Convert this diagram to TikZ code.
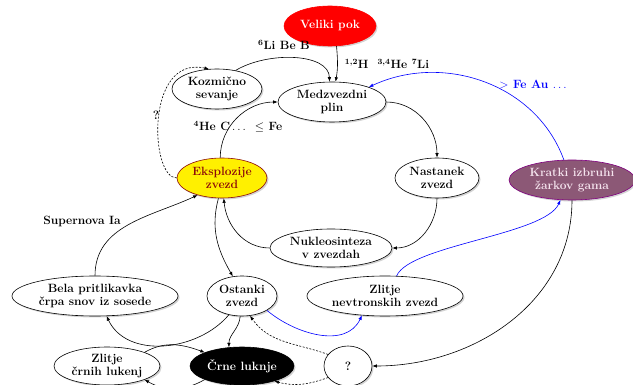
\documentclass[tikz,border=0pt]{standalone}
\usetikzlibrary{shapes.geometric,arrows.meta,shadows}
\definecolor{gammafill}{RGB}{140,88,118}
\definecolor{gammaborder}{RGB}{128,0,128}
\definecolor{gammatext}{RGB}{245,228,238}
\definecolor{explyellow}{RGB}{255,240,0}
\definecolor{expldark}{RGB}{140,10,10}
\begin{document}
\begin{tikzpicture}[x=1pt,y=1pt,
  every node/.style={font=\fontsize{12}{12.5}\selectfont\bfseries},
  bub/.style={ellipse, draw, line width=0.6pt, fill=white, inner sep=0pt, align=center,
    drop shadow={opacity=0.35, shadow xshift=1.5pt, shadow yshift=-1.5pt}},
  sz/.style 2 args={minimum width=#1, minimum height=#2},
  arr/.style={-{Latex[length=4.5pt,width=3.5pt]}, line width=0.6pt},
  dsh/.style={arr, dash pattern=on 2pt off 1.5pt},
  blu/.style={arr, blue},
  lab/.style={inner sep=1pt}]
\useasboundingbox (0,0) rectangle (633,-385);

% nodes
\node[bub, sz={92}{40}, fill=red, draw=red, text=white] (vp) at (330,-26) {Veliki pok};
\node[bub, sz={90}{40}] (ks) at (217,-89) {Kozmično\\sevanje};
\node[bub, sz={108}{40}] (mp) at (332,-102) {Medzvezdni\\plin};
\node[bub, sz={84}{40}] (nz) at (437,-178) {Nastanek\\zvezd};
\node[bub, sz={126}{40}, fill=gammafill, draw=gammaborder, text=gammatext] (ki) at (572,-180) {Kratki izbruhi\\žarkov gama};
\node[bub, sz={90}{40}, fill=explyellow, draw=expldark, text=expldark] (ez) at (222,-178) {Eksplozije\\zvezd};
\node[bub, sz={122}{38}] (nv) at (331,-248) {Nukleosinteza\\v zvezdah};
\node[bub, sz={166}{40}] (bp) at (95,-296) {Bela pritlikavka\\črpa snov iz sosede};
\node[bub, sz={70}{40}] (oz) at (242,-296) {Ostanki\\zvezd};
\node[bub, sz={156}{40}] (znz) at (385,-296) {Zlitje\\nevtronskih zvezd};
\node[bub, sz={106}{38}] (zcl) at (107,-366) {Zlitje\\črnih lukenj};
\node[bub, sz={104}{38}, fill=black, text=white] (cl) at (242,-366) {Črne luknje};
\node[bub, sz={48}{40}] (q) at (348,-366) {?};

% labels
\node[lab] (l1) at (387,-64) {\textsuperscript{1,2}H\ \ \textsuperscript{3,4}He\ \textsuperscript{7}Li};
\node[lab] (l2) at (284,-45) {\textsuperscript{6}Li Be B};
\node[lab] (l3) at (238,-127) {\textsuperscript{4}He C\,$\ldots$\ \ $\leq$ Fe};
\node[lab] (l4) at (156,-115) {?};
\node[lab] (l5) at (82,-221) {Supernova Ia};
\node[lab, text=blue] (l6) at (533,-84) {$>$ Fe Au $\ldots$};

% edges
\draw[arr] (vp.-72) to[out=-85,in=80] (mp.80);
\draw[arr] (ks.45) .. controls (268,-51) and (329,-53) .. (mp.97);
\draw[arr] (mp.east) to[out=0,in=90] (nz.north);
\draw[arr] (nz.south) to[out=-90,in=0] (nv.east);
\draw[arr] (nv.west) to[out=180,in=-85] (ez.-85);
\draw[arr] (ez.95) to[out=90,in=180] (mp.west);
\draw[dsh] (ez.west) .. controls (150,-178) and (145,-55) .. (ks.112);
\draw[arr] (ez.-100) to[out=-105,in=120] (oz.115);
\draw[arr] (bp.north) to[out=90,in=205] (ez.215);
\draw[arr] (oz.235) to[out=-130,in=-65] (bp.-60);
\draw[arr] (oz.-95) to[out=-95,in=90] (cl.125);
\draw[blu] (oz.-30) to[out=-40,in=-115] (znz.-140);
\draw[blu] (znz.60) .. controls (410,-245) and (545,-235) .. (ki.-120);
\draw[blu] (ki.112) to[out=110,in=25] (mp.22);
\draw[arr] (ki.south) to[out=-90,in=0] (q.east);
\draw[dsh] (q.150) to[out=160,in=-55] (oz.-68);
\draw[dsh] (q.210) to[out=200,in=-15] (cl.-25);
\draw[arr] (zcl.20) to[out=30,in=160] (cl.160);
\draw[arr] (cl.200) to[out=-150,in=-30] (zcl.-20);
\end{tikzpicture}
\end{document}
